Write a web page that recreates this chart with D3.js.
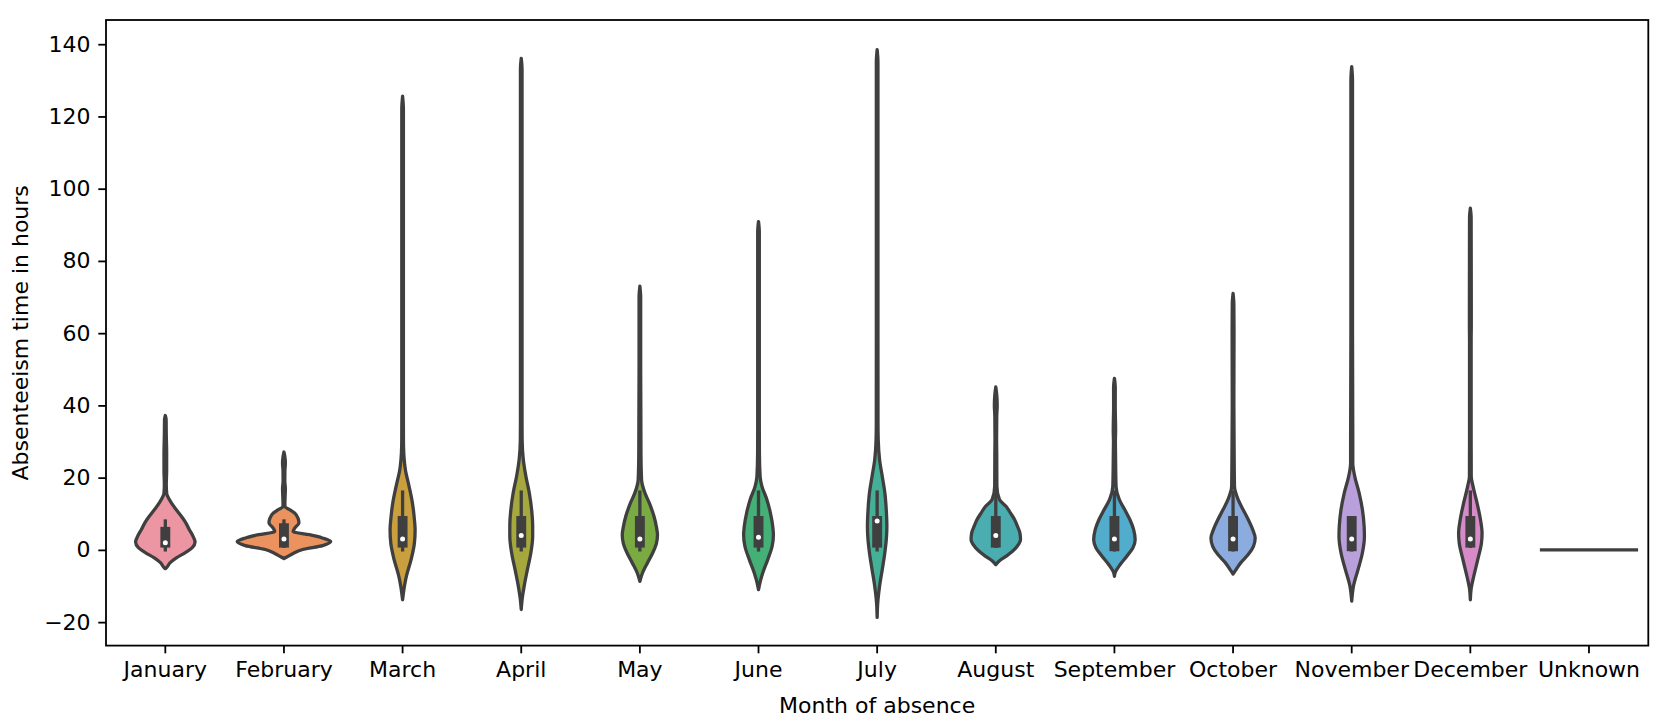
<!DOCTYPE html>
<html>
<head>
<meta charset="utf-8">
<script src="https://cdn.jsdelivr.net/npm/d3@7"></script>
<style>
  body { margin: 0; background: #fff; }
  text { font-family: "DejaVu Sans", sans-serif; }
</style>
</head>
<body>
<script>

// categories
var months = ["January", "February", "March", "April", "May", "June", "July",
              "August", "September", "October", "November", "December", "Unknown"];

// violin outlines: [hours, relative density]
var januaryDensity = [[37.2,0],[36,0.017],[32,0.02],[27,0.028],[22,0.028],[18,0.02],[15.5,0.03],[14.8,0.05],[13,0.127],[11.1,0.232],[9.3,0.338],[7.5,0.432],[5.6,0.506],[3.8,0.582],[2.2,0.627],[0.55,0.563],[-0.8,0.414],[-2.2,0.232],[-3.6,0.097],[-5.0,0.019],[-5.2,0]];
var februaryDensity = [[27.1,0],[26,0.017],[24,0.03],[22,0.02],[19,0.018],[17,0.03],[15,0.025],[13,0.02],[12.0,0.021],[11.1,0.127],[10.2,0.224],[8.8,0.295],[7.5,0.316],[6.1,0.232],[5.1,0.194],[4.2,0.536],[3.3,0.81],[2.3,0.985],[1.2,0.816],[0.1,0.395],[-1.0,0.194],[-1.9,0.068],[-2.4,0]];
var marchDensity = [[125.6,0],[122,0.017],[100,0.017],[60,0.017],[35,0.017],[30,0.018],[26.8,0.025],[22.2,0.059],[17.6,0.137],[13.0,0.207],[8.4,0.249],[5.6,0.264],[1.9,0.249],[-2.7,0.179],[-7.3,0.08],[-10.1,0.038],[-13.8,0]];
var aprilDensity = [[136.1,0],[133,0.017],[100,0.017],[60,0.017],[35,0.017],[30.5,0.019],[25,0.044],[20.3,0.099],[15.7,0.171],[11.1,0.219],[6.5,0.241],[3.8,0.241],[-0.8,0.203],[-5.4,0.131],[-10.1,0.061],[-13.7,0.019],[-16.5,0]];
var mayDensity = [[73.0,0],[70,0.017],[50,0.017],[40,0.02],[26.8,0.023],[19.4,0.036],[15.7,0.108],[13.0,0.198],[9.3,0.297],[6.5,0.346],[4.2,0.371],[1.9,0.35],[-0.8,0.272],[-3.6,0.16],[-6.4,0.055],[-8.7,0]];
var juneDensity = [[90.9,0],[88,0.017],[60,0.017],[35,0.017],[26.8,0.019],[20.3,0.034],[17.6,0.072],[13.9,0.177],[10.2,0.251],[6.5,0.3],[4.2,0.314],[1.0,0.287],[-2.7,0.194],[-6.4,0.089],[-9.1,0.03],[-11.0,0]];
var julyDensity = [[138.5,0],[135,0.017],[100,0.017],[60,0.017],[35,0.018],[30.5,0.023],[25,0.051],[20.3,0.108],[15.8,0.162],[11.1,0.192],[6.5,0.205],[3.8,0.198],[-0.8,0.162],[-5.4,0.108],[-10.1,0.051],[-14.6,0.013],[-18.7,0]];
var augustDensity = [[45.1,0],[43,0.02],[40,0.03],[37,0.02],[30,0.017],[26.8,0.02],[17.6,0.023],[13.9,0.078],[12.0,0.219],[10.2,0.31],[8.4,0.395],[6.5,0.458],[4.7,0.508],[2.8,0.521],[1.5,0.479],[-0.4,0.352],[-1.8,0.213],[-3.1,0.072],[-4.1,0]];
var septemberDensity = [[47.5,0],[45,0.018],[40,0.017],[33,0.025],[30,0.02],[26.8,0.023],[17.6,0.034],[13.9,0.103],[11.1,0.219],[8.4,0.325],[5.6,0.405],[2.8,0.437],[0.5,0.388],[-1.8,0.257],[-4.1,0.118],[-6.4,0.013],[-7.3,0]];
var octoberDensity = [[71.0,0],[68,0.017],[60,0.02],[40,0.017],[26.8,0.023],[17.6,0.03],[13.9,0.108],[11.1,0.213],[8.4,0.319],[5.6,0.414],[3.3,0.466],[1.0,0.43],[-1.3,0.319],[-3.6,0.16],[-5.9,0.04],[-6.7,0]];
var novemberDensity = [[133.8,0],[130,0.017],[100,0.017],[60,0.017],[30.5,0.023],[24.0,0.023],[20.3,0.065],[15.8,0.156],[11.1,0.226],[6.5,0.262],[3.8,0.268],[-0.8,0.226],[-5.4,0.135],[-10.1,0.036],[-14.2,0]];
var decemberDensity = [[94.6,0],[92,0.017],[62,0.02],[58,0.017],[30,0.017],[26.8,0.018],[20.3,0.019],[17.6,0.057],[13.0,0.141],[8.4,0.213],[4.7,0.247],[1.9,0.234],[-2.7,0.156],[-7.3,0.072],[-11.0,0.015],[-13.8,0]];
var unknownHours = 0;   // the only value in the last group

var densities = [januaryDensity, februaryDensity, marchDensity, aprilDensity, mayDensity,
                 juneDensity, julyDensity, augustDensity, septemberDensity, octoberDensity,
                 novemberDensity, decemberDensity, null];

// inner box stats
var boxQ1 =       [2, 2, 2, 2, 2, 2,   2, 2, 1, 1, 1, 2];
var boxMedian =   [2, 3, 3, 4, 3, 3.5, 8, 4, 3, 3, 3, 3];
var boxQ3 =       [5, 6, 8, 8, 8, 8,   8, 8, 8, 8, 8, 8];
var whiskerLow =  [0, 1, 0, 0, 0, 0,   0, 1, 0, 0, 0, 1];
var whiskerHigh = [8, 8, 16, 16, 16, 16, 16, 16, 16, 16, 8, 16];

var yTicks = [-20, 0, 20, 40, 60, 80, 100, 120, 140];

var palette = ["#ed96a3", "#eb925f", "#caa03e", "#a6a83e", "#7aab43", "#44af76", "#45b098",
               "#4aaeb0", "#52accc", "#8cace0", "#baa0da", "#d68ac8", "#cccccc"];
var gray = "#3f3f3f";

var width = 1665,
    height = 723;

var plotLeft = 106, plotRight = 1648.3, plotTop = 20, plotBottom = 645.6;

var svg = d3.select("body").append("svg")
    .attr("width", width)
    .attr("height", height);

var x = d3.scaleBand().domain(months).range([plotLeft, plotRight]);
var y = d3.scaleLinear().domain([-26.5, 146.7]).range([plotBottom, plotTop]);
var w = d3.scaleLinear().domain([0, 1]).range([0, x.bandwidth() * 0.4]);

var lw = 3.3;

// violins
months.forEach(function(m, i) {
    var cx = x(m) + x.bandwidth() / 2;
    var g = svg.append("g");

    if (!densities[i]) {
        // single observation: flat line
        g.append("line")
            .attr("x1", cx - w(1)).attr("x2", cx + w(1))
            .attr("y1", y(unknownHours)).attr("y2", y(unknownHours))
            .attr("stroke", gray)
            .attr("stroke-width", lw)
            .attr("stroke-linecap", "square");
        return;
    }

    var area = d3.area()
        .curve(d3.curveMonotoneY)
        .y(function(d) { return y(d[0]); })
        .x0(function(d) { return cx - w(d[1]); })
        .x1(function(d) { return cx + w(d[1]); });

    g.append("path")
        .datum(densities[i])
        .attr("d", area)
        .attr("fill", palette[i])
        .attr("stroke", gray)
        .attr("stroke-width", lw)
        .attr("stroke-linejoin", "round");

    // whisker
    g.append("line")
        .attr("x1", cx).attr("x2", cx)
        .attr("y1", y(whiskerLow[i])).attr("y2", y(whiskerHigh[i]))
        .attr("stroke", gray)
        .attr("stroke-width", lw)
        .attr("stroke-linecap", "square");

    // box
    g.append("line")
        .attr("x1", cx).attr("x2", cx)
        .attr("y1", y(boxQ1[i])).attr("y2", y(boxQ3[i]))
        .attr("stroke", gray)
        .attr("stroke-width", lw * 3)
        .attr("stroke-linecap", "square");

    // median
    g.append("circle")
        .attr("cx", cx)
        .attr("cy", y(boxMedian[i]))
        .attr("r", 3.3)
        .attr("fill", "white")
        .attr("stroke", gray)
        .attr("stroke-width", 1.6);
});

// axes
var yAxis = svg.append("g")
    .attr("transform", "translate(" + plotLeft + ",0)")
    .call(d3.axisLeft(y).tickValues(yTicks).tickSize(7.7).tickPadding(7.7));

var xAxis = svg.append("g")
    .attr("transform", "translate(0," + plotBottom + ")")
    .call(d3.axisBottom(x).tickSize(7.7).tickPadding(7.7));

[yAxis, xAxis].forEach(function(a) {
    a.select(".domain").remove();
    a.selectAll(".tick line").attr("stroke", "#000").attr("stroke-width", 1.8);
    a.selectAll(".tick text")
        .attr("fill", "#000")
        .style("font-size", "22px")
        .style("font-family", "'DejaVu Sans', sans-serif");
});

// frame
svg.append("rect")
    .attr("x", plotLeft).attr("y", plotTop)
    .attr("width", plotRight - plotLeft).attr("height", plotBottom - plotTop)
    .attr("fill", "none")
    .attr("stroke", "#000")
    .attr("stroke-width", 1.8);

// axis labels
svg.append("text")
    .attr("x", (plotLeft + plotRight) / 2)
    .attr("y", 713)
    .attr("text-anchor", "middle")
    .style("font-size", "22px")
    .text("Month of absence");

svg.append("text")
    .attr("transform", "translate(28," + ((plotTop + plotBottom) / 2) + ") rotate(-90)")
    .attr("text-anchor", "middle")
    .style("font-size", "22px")
    .text("Absenteeism time in hours");

</script>
</body>
</html>
